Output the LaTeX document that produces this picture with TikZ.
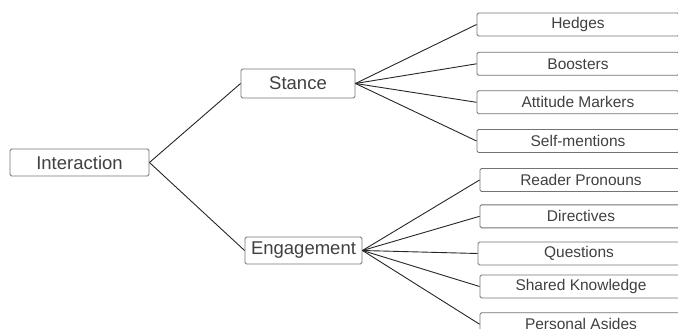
\documentclass[tikz,border=0pt]{standalone}
\usepackage{fontspec}
\setmainfont{Liberation Sans}

\begin{document}
\begin{tikzpicture}[x=1pt,y=-1pt,
    box/.style={draw=black!55, rounded corners=1.5pt, line width=0.9pt, inner sep=0pt, text=black!75},
    topbox/.style={box, font=\fontsize{18.5}{20}\selectfont, minimum height=27pt},
    leafbox/.style={box, font=\fontsize{15.5}{17}\selectfont, minimum width=202pt, minimum height=23pt},
    link/.style={draw=black!85, line width=0.9pt}]
            \useasboundingbox (0,0) rectangle (678,329);
            \clip (0,0) rectangle (678,329);

            \node[topbox, minimum width=139pt] (Interaction) at (79.5,162.5) {Interaction};
            \node[topbox, minimum width=114pt, minimum height=29pt] (Stance) at (298,83.5) {Stance};
            \node[topbox, minimum width=117pt] (Engagement) at (303.5,250.5) {Engagement};

            \node[leafbox] (Hedges) at (578,24.5) {Hedges};
            \node[leafbox] (Boosters) at (578,63.8) {Boosters};
            \node[leafbox] (AttitudeMarkers) at (578,102.3) {Attitude Markers};
            \node[leafbox] (SelfMentions) at (578,141) {Self-mentions};
            \node[leafbox] (ReaderPronouns) at (581,180) {Reader Pronouns};
            \node[leafbox] (Directives) at (581,216.3) {Directives};
            \node[leafbox] (Questions) at (579,253.5) {Questions};
            \node[leafbox] (SharedKnowledge) at (581,286.5) {Shared Knowledge};
            \node[leafbox] (PersonalAsides) at (581,324.2) {Personal Asides};

            \draw[link] (Interaction.east) -- (Stance.west);
            \draw[link] (Interaction.east) -- (Engagement.west);
            \draw[link] (Stance.east) -- (Hedges.west);
            \draw[link] (Stance.east) -- (Boosters.west);
            \draw[link] (Stance.east) -- (AttitudeMarkers.west);
            \draw[link] (Stance.east) -- (SelfMentions.west);
            \draw[link] (Engagement.east) -- (ReaderPronouns.west);
            \draw[link] (Engagement.east) -- (Directives.west);
            \draw[link] (Engagement.east) -- (Questions.west);
            \draw[link] (Engagement.east) -- (SharedKnowledge.west);
            \draw[link] (Engagement.east) -- (PersonalAsides.west);
        \end{tikzpicture}
\end{document}
